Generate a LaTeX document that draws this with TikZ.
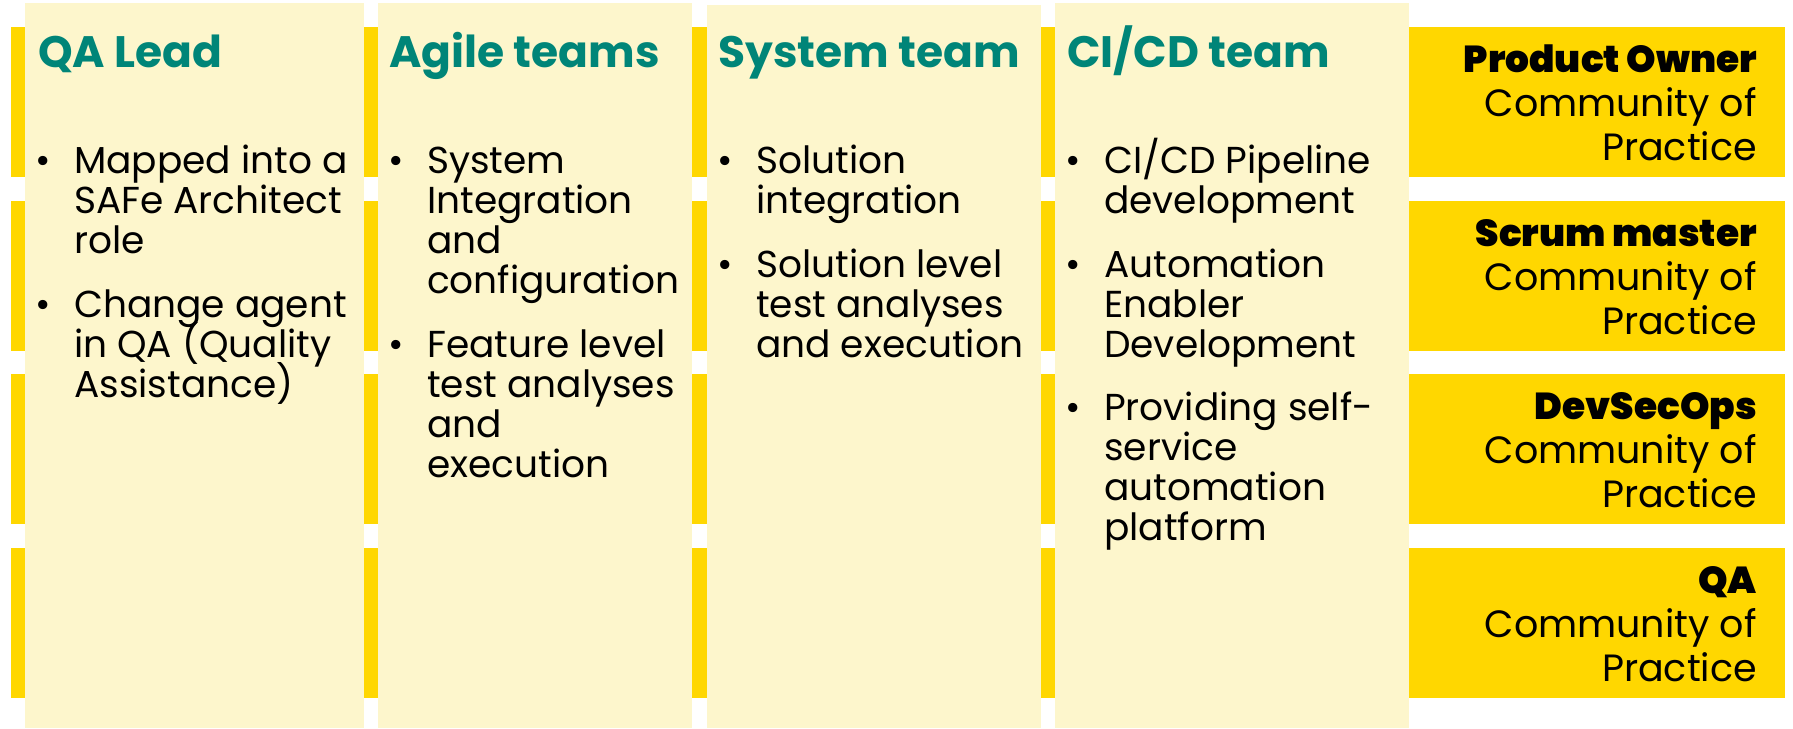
\documentclass[tikz,border=0pt]{standalone}
\usepackage{fontspec}
\setmainfont{Poppins}
\newfontfamily\blackfont{Poppins Black}
\usepackage{xcolor}
\usetikzlibrary{positioning}
\definecolor{bandyellow}{RGB}{255,215,0}
\definecolor{cream}{RGB}{253,246,204}
\definecolor{teal}{RGB}{0,133,120}
\setlength{\lineskiplimit}{-100pt}
\begin{document}
\begin{tikzpicture}[x=1pt,y=-1pt]
  \tikzset{band/.style = {fill=bandyellow,anchor=north west,inner sep=0pt,outer sep=0pt,minimum width=1774pt,minimum height=150pt}}
  \tikzset{column/.style = {fill=cream,anchor=north west,inner sep=0pt,outer sep=0pt}}
  \tikzset{head/.style = {anchor=base west,inner sep=0pt,text=teal,font=\fontsize{44}{48}\selectfont\bfseries}}
  \tikzset{dot/.style = {anchor=base,inner sep=0pt,font=\fontsize{37.5}{40}\selectfont}}
  \tikzset{item/.style = {anchor=base west,inner sep=0pt,align=left,font=\fontsize{37.5}{40}\selectfont}}
  \tikzset{cop/.style = {anchor=base east,inner sep=0pt,align=right,font=\fontsize{38}{44}\selectfont}}
  \tikzset{coptitle/.style = {font=\blackfont\fontsize{37.5}{44}\selectfont}}
  \useasboundingbox (0,0) rectangle (1793,728);

  % yellow bands behind the columns
  \foreach \i/\top in {1/27, 2/201, 3/374, 4/548}
    \node[band] (band\i) at (11,\top) {};

  % cream columns
  \foreach \name/\l/\r/\t in {qa/25/364/3, agile/378/692/3, sys/707/1041/5, cicd/1055/1409/3}
    \node[column,minimum width={\r pt-\l pt},minimum height={728pt-\t pt}] (\name) at (\l,\t) {};

  \node[head] (qahead) at (38,67) {QA Lead};
  \node[head] (agilehead) at (389,67) {Agile teams};
  \node[head] (syshead) at (718,67) {System team};
  \node[head] (cicdhead) at (1067,67) {CI/CD team};

  % bullets: column left / first baseline / lines / text
  \foreach \x/\y/\n/\txt in {25/173/3/{Mapped into a\\SAFe Architect\\role}, 25/317/3/{Change agent\\in QA (Quality\\Assistance)},
      378/173/4/{System\\Integration\\and\\configuration}, 378/357/4/{Feature level\\test analyses\\and\\execution},
      707/173/2/{Solution\\integration}, 707/277/3/{Solution level\\test analyses\\and execution},
      1055/173/2/{CI/CD Pipeline\\development}, 1055/277/3/{Automation\\Enabler\\Development}, 1055/420/4/{Providing self-\\service\\automation\\platform}}
  {
    \node[dot] (dot-\x-\y) at (\x+18,\y) {\textbullet};
    \node[item] (item-\x-\y) at (\x+49,\y+40*\n-40) {\txt};
  }

  \node[cop] (po) at (1757,160) {\tikz[baseline]\node[coptitle,inner sep=0pt,anchor=base]{Product Owner};\\Community of\\Practice};
  \node[cop] (sm) at (1757,334) {\tikz[baseline]\node[coptitle,inner sep=0pt,anchor=base]{Scrum master};\\Community of\\Practice};
  \node[cop] (dso) at (1757,507) {\tikz[baseline]\node[coptitle,inner sep=0pt,anchor=base]{DevSecOps};\\Community of\\Practice};
  \node[cop] (qacop) at (1757,681) {\tikz[baseline]\node[coptitle,inner sep=0pt,anchor=base]{QA};\\Community of\\Practice};
\end{tikzpicture}
\end{document}
